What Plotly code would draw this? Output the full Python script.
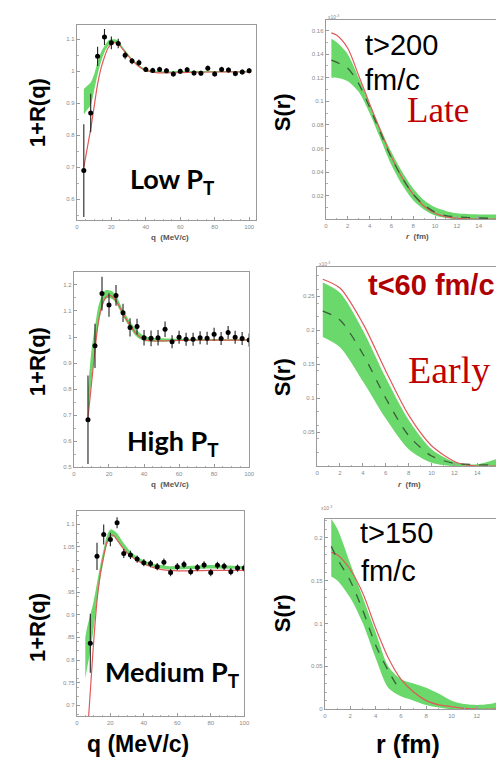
import plotly.graph_objects as go

W, H = 504, 758

# ---------------- data ----------------
q_pts = [4, 8, 12, 16, 20, 24, 28, 32, 36, 40, 44, 48, 52, 56, 60, 64, 68, 72, 76, 80, 84, 88, 92, 96, 100]

# Low PT
low_y = [0.69, 0.87, 1.047, 1.107, 1.089, 1.087, 1.05, 1.032, 1.027, 1.006, 1.003, 1.006, 1.002,
         0.992, 1.0, 1.005, 0.995, 0.994, 1.01, 0.992, 1.006, 1.004, 0.993, 0.998, 1.002]
low_err = [0.145, 0.06, 0.03, 0.025, 0.02, 0.015, 0.012, 0.01, 0.01, 0.008, 0.008, 0.008, 0.008,
           0.008, 0.008, 0.008, 0.008, 0.008, 0.008, 0.008, 0.008, 0.008, 0.008, 0.008, 0.008]
low_fit_q = [4, 6, 8, 10, 12, 14, 16, 18, 20, 22, 24, 28, 32, 36, 40, 45, 50, 60, 80, 100]
low_fit = [0.70, 0.76, 0.82, 0.89, 0.96, 1.01, 1.045, 1.072, 1.085, 1.09, 1.085, 1.06, 1.035, 1.015,
           1.003, 0.997, 0.995, 0.996, 0.998, 0.998]
low_band_q = [4, 6, 8, 10, 12, 14, 16, 18, 20, 22, 24, 28, 32, 36, 40, 50, 60, 80, 100]
low_band_lo = [0.865, 0.88, 0.895, 0.94, 0.99, 1.03, 1.06, 1.078, 1.088, 1.09, 1.085, 1.058, 1.033,
               1.013, 1.0, 0.995, 0.997, 0.997, 0.997]
low_band_hi = [0.945, 0.955, 0.965, 0.99, 1.03, 1.06, 1.08, 1.095, 1.1, 1.1, 1.095, 1.066, 1.04,
               1.02, 1.007, 1.0, 1.001, 1.001, 1.001]

# High PT
high_q = q_pts[1:]
high_y = [0.682, 0.966, 1.167, 1.123, 1.16, 1.093, 1.037, 1.04, 0.997, 0.995, 0.997, 1.03, 0.982,
          0.999, 0.991, 0.991, 0.997, 0.995, 1.011, 0.994, 1.017, 0.999, 0.994, 0.989]
high_err = [0.17, 0.085, 0.065, 0.045, 0.04, 0.035, 0.035, 0.03, 0.03, 0.03, 0.03, 0.03, 0.025,
            0.025, 0.025, 0.025, 0.025, 0.025, 0.025, 0.025, 0.025, 0.025, 0.025, 0.025]
high_fit_q = [8, 10, 12, 14, 16, 18, 20, 22, 24, 28, 32, 36, 40, 45, 50, 60, 80, 100]
high_fit = [0.69, 0.82, 0.95, 1.06, 1.12, 1.15, 1.16, 1.155, 1.14, 1.09, 1.045, 1.01, 0.99, 0.985,
            0.985, 0.987, 0.988, 0.988]
high_band_q = [8, 10, 12, 14, 16, 18, 20, 22, 24, 28, 32, 36, 40, 45, 50, 60, 80, 100]
high_band_lo = [0.70, 0.83, 0.95, 1.05, 1.11, 1.145, 1.15, 1.145, 1.13, 1.08, 1.035, 1.0, 0.985,
                0.982, 0.982, 0.985, 0.986, 0.986]
high_band_hi = [0.80, 0.95, 1.04, 1.12, 1.16, 1.18, 1.18, 1.175, 1.16, 1.105, 1.06, 1.025, 1.005,
                0.997, 0.995, 0.993, 0.992, 0.992]

# Medium PT
med_q = q_pts[1:]
med_y = [0.837, 1.029, 1.077, 1.066, 1.103, 1.035, 1.032, 1.023, 1.015, 1.013, 1.006, 1.016, 0.993,
         1.006, 1.011, 0.995, 1.004, 1.01, 0.993, 1.009, 1.007, 0.995, 1.003, 1.003]
med_err = [0.065, 0.03, 0.022, 0.015, 0.012, 0.01, 0.009, 0.008, 0.008, 0.008, 0.008, 0.008, 0.008,
           0.008, 0.008, 0.008, 0.008, 0.008, 0.008, 0.008, 0.008, 0.008, 0.008, 0.008]
med_fit_q = [7, 8, 10, 12, 14, 16, 18, 20, 22, 24, 28, 32, 36, 40, 45, 50, 55, 60, 80, 100]
med_fit = [0.676, 0.73, 0.84, 0.93, 0.99, 1.03, 1.06, 1.075, 1.075, 1.065, 1.045, 1.03, 1.02, 1.012,
           1.005, 1.0, 0.998, 0.997, 0.998, 0.998]
med_band_q = [5, 6, 8, 10, 12, 14, 16, 18, 20, 22, 24, 28, 32, 36, 40, 45, 50, 55, 60, 80, 100]
med_band_lo = [0.76, 0.78, 0.82, 0.87, 0.93, 0.98, 1.02, 1.055, 1.07, 1.072, 1.064, 1.045, 1.03,
               1.02, 1.012, 1.006, 1.002, 1.0, 1.0, 1.002, 1.001]
med_band_hi = [0.85, 0.87, 0.90, 0.93, 0.97, 1.01, 1.045, 1.075, 1.088, 1.086, 1.08, 1.058, 1.04,
               1.028, 1.02, 1.013, 1.01, 1.007, 1.007, 1.01, 1.007]

# S(r) late (t>200 fm/c)
r_late = [0.5, 1, 2, 3, 4, 5, 6, 7, 8, 9, 10, 11, 12, 14, 16.5]
late_red = [0.158, 0.156, 0.145, 0.122, 0.098, 0.075, 0.053, 0.035, 0.021, 0.011, 0.005, 0.002,
            0.0007, 0.0001, 0.0]
late_dash = [0.135, 0.133, 0.128, 0.115, 0.095, 0.073, 0.052, 0.035, 0.021, 0.012, 0.006, 0.003,
             0.002, 0.001, 0.0005]
late_hi = [0.153, 0.15, 0.14, 0.12, 0.098, 0.077, 0.057, 0.04, 0.026, 0.016, 0.01, 0.007, 0.005,
           0.004, 0.004]
late_lo = [0.12, 0.12, 0.117, 0.108, 0.09, 0.068, 0.046, 0.029, 0.016, 0.008, 0.003, 0.001, 0.0,
           0.0, 0.0]

# S(r) early (t<60 fm/c)
r_early = [0.5, 2, 4, 6, 8, 10, 12, 13, 14, 15, 16, 16.5]
early_red = [0.275, 0.262, 0.21, 0.14, 0.075, 0.03, 0.007, 0.002, 0.0, 0.0, 0.0, 0.0]
early_dash = [0.228, 0.215, 0.165, 0.10, 0.045, 0.015, 0.004, 0.003, 0.002, 0.002, 0.002, 0.002]
early_hi = [0.27, 0.255, 0.20, 0.13, 0.068, 0.025, 0.006, 0.003, 0.003, 0.007, 0.012, 0.013]
early_lo = [0.19, 0.175, 0.125, 0.07, 0.025, 0.005, 0.0, 0.0, 0.0, 0.0, 0.0, 0.0]

# S(r) medium (t>150 fm/c)
r_med = [0.5, 1, 2, 3, 4, 5, 6, 7, 8, 9, 10, 11, 12, 13, 14, 14.3]
med_red = [0.183, 0.18, 0.163, 0.135, 0.095, 0.06, 0.035, 0.02, 0.01, 0.005, 0.003, 0.001, 0.0,
           0.0, 0.0, 0.0]
r_med_dash = [0.5, 1, 2, 3, 4, 5, 5.8]
med_dash = [0.19, 0.175, 0.15, 0.115, 0.075, 0.045, 0.025]
med_hi = [0.222, 0.21, 0.17, 0.13, 0.09, 0.05, 0.035, 0.03, 0.025, 0.018, 0.01, 0.006, 0.005,
          0.006, 0.01, 0.011]
med_lo = [0.155, 0.15, 0.13, 0.10, 0.06, 0.025, 0.015, 0.01, 0.005, 0.002, 0.0, 0.0, 0.0, 0.0,
          0.0, 0.0]

# ---------------- styling ----------------
GREEN = "#6ad86a"
RED = "#e05a5a"
DASH = "#3b5e3b"

fig = go.Figure()


def px_x(a, b):
    return [a / W, b / W]


def px_y(top, bottom):
    return [1 - bottom / H, 1 - top / H]


def band(xs, lo, hi, ax):
    xa, ya = ax
    fig.add_trace(go.Scatter(x=xs, y=lo, mode="lines",
                             line=dict(width=0, color=GREEN, shape="spline", smoothing=0.8),
                             xaxis=xa, yaxis=ya, showlegend=False, hoverinfo="skip"))
    fig.add_trace(go.Scatter(x=xs, y=hi, mode="lines",
                             line=dict(width=0, color=GREEN, shape="spline", smoothing=0.8),
                             fill="tonexty", fillcolor=GREEN, xaxis=xa, yaxis=ya,
                             showlegend=False, hoverinfo="skip"))


def line(xs, ys, ax, color, dash=None, width=1.2):
    xa, ya = ax
    fig.add_trace(go.Scatter(x=xs, y=ys, mode="lines",
                             line=dict(color=color, width=width, dash=dash, shape="spline",
                                       smoothing=0.8),
                             xaxis=xa, yaxis=ya, showlegend=False))


def points(xs, ys, err, ax):
    xa, ya = ax
    fig.add_trace(go.Scatter(x=xs, y=ys, mode="markers",
                             marker=dict(color="black", size=5),
                             error_y=dict(type="data", array=err, color="#222", thickness=1.1, width=0),
                             xaxis=xa, yaxis=ya, showlegend=False))


# panel 1: low PT
A1 = ("x", "y")
band(low_band_q, low_band_lo, low_band_hi, A1)
line(low_fit_q, low_fit, A1, RED)
points(q_pts, low_y, low_err, A1)

# panel 2: late
A2 = ("x2", "y2")
band(r_late, late_lo, late_hi, A2)
line(r_late, late_red, A2, RED)
line(r_late, late_dash, A2, DASH, dash="dash", width=1.3)

# panel 3: high PT
A3 = ("x3", "y3")
band(high_band_q, high_band_lo, high_band_hi, A3)
line(high_fit_q, high_fit, A3, RED)
points(high_q, high_y, high_err, A3)

# panel 4: early
A4 = ("x4", "y4")
band(r_early, early_lo, early_hi, A4)
line(r_early, early_red, A4, RED)
line(r_early, early_dash, A4, DASH, dash="dash", width=1.3)

# panel 5: medium PT
A5 = ("x5", "y5")
band(med_band_q, med_band_lo, med_band_hi, A5)
line(med_fit_q, med_fit, A5, RED)
points(med_q, med_y, med_err, A5)

# panel 6: medium S(r)
A6 = ("x6", "y6")
band(r_med, med_lo, med_hi, A6)
line(r_med, med_red, A6, RED)
line(r_med_dash, med_dash, A6, DASH, dash="dash", width=1.3)


def axis(domain, rng, anchor, tickvals, ticktext=None, mirror=True):
    d = dict(domain=domain, range=rng, anchor=anchor, showline=True, linecolor="#9a9a9a",
             linewidth=1.3, mirror=mirror, ticks="inside", ticklen=3, tickcolor="#9a9a9a",
             tickfont=dict(size=6, color="#8a8a8a", family="Liberation Sans"),
             showgrid=False, zeroline=False, tickvals=tickvals,
             minor=dict(ticks="inside", ticklen=1.5, tickcolor="#b0b0b0", nticks=5))
    if ticktext is not None:
        d["ticktext"] = ticktext
    return d


qticks = [0, 20, 40, 60, 80, 100]
layout = dict(
    width=W, height=H, margin=dict(l=0, r=0, t=0, b=0),
    paper_bgcolor="white", plot_bgcolor="white",
    xaxis=axis(px_x(68, 250), [0, 104], "y", qticks),
    yaxis=axis(px_y(17, 213), [0.535, 1.145], "x", [0.6, 0.7, 0.8, 0.9, 1.0, 1.1],
               ["0.6", "0.7", "0.8", "0.9", "1", "1.1"]),
    xaxis2=axis(px_x(321, 504), [0, 16.5], "y2", [0, 2, 4, 6, 8, 10, 12, 14, 16]),
    yaxis2=axis(px_y(12, 212), [0, 0.169], "x2",
                [0.02, 0.04, 0.06, 0.08, 0.1, 0.12, 0.14, 0.16],
                ["0.02", "0.04", "0.06", "0.08", "0.1", "0.12", "0.14", "0.16"], mirror=False),
    xaxis3=axis(px_x(65, 243), [0, 100], "y3", qticks),
    yaxis3=axis(px_y(265, 461), [0.5, 1.25], "x3", [0.5, 0.6, 0.7, 0.8, 0.9, 1.0, 1.1, 1.2],
                ["0.5", "0.6", "0.7", "0.8", "0.9", "1", "1.1", "1.2"]),
    xaxis4=axis(px_x(312, 504), [0, 16.5], "y4", [0, 2, 4, 6, 8, 10, 12, 14, 16]),
    yaxis4=axis(px_y(260, 460), [0, 0.293], "x4", [0.05, 0.1, 0.15, 0.2, 0.25],
                ["0.05", "0.1", "0.15", "0.2", "0.25"], mirror=False),
    xaxis5=axis(px_x(68, 238), [0, 100], "y5", qticks),
    yaxis5=axis(px_y(505, 711), [0.676, 1.129], "x5",
                [0.7, 0.75, 0.8, 0.85, 0.9, 0.95, 1.0, 1.05, 1.1],
                ["0.7", "0.75", "0.8", ".85", "0.9", ".95", "1", "1.05", "1.1"]),
    xaxis6=axis(px_x(320, 504), [0, 14.3], "y6", [0, 2, 4, 6, 8, 10, 12, 14]),
    yaxis6=axis(px_y(513, 704), [0, 0.222], "x6", [0, 0.05, 0.1, 0.15, 0.2],
                ["0", "0.05", "0.1", "0.15", "0.2"], mirror=False),
)
fig.update_layout(**layout)

ann = []


def text(s, x, y, size, color="black", family="Liberation Sans", angle=0, xanchor="center"):
    ann.append(dict(text=s, x=x / W, y=1 - y / H, xref="paper", yref="paper", showarrow=False,
                    xanchor=xanchor, yanchor="middle", textangle=angle,
                    font=dict(size=size, color=color, family=family)))


# y-axis titles
for yc in (105, 355, 622):
    text("<b>1+R(q)</b>", 28, yc, 22, angle=-90)
for yc in (105, 371, 608):
    text("<b>S(r)</b>", 277, yc, 22, angle=-90)

# small in-plot axis titles
text("<b>q  (MeV/c)</b>", 163, 230, 8, color="#555")
text("<b><i>r</i>  (fm)</b>", 414, 229, 8, color="#555")
text("<b>q  (MeV/c)</b>", 163, 478, 8, color="#555")
text("<b><i>r</i>  (fm)</b>", 406, 478, 8, color="#555")

# x10^-3 multipliers
text("x10<sup>-3</sup>", 329, 9, 5, color="#888")
text("x10<sup>-3</sup>", 320, 257, 5, color="#888")
text("x10<sup>-3</sup>", 322, 502, 5, color="#888")

# panel labels
text("<b>Low P<sub>T</sub></b>", 165, 173, 27, family="Lato")
text("<b>High P<sub>T</sub></b>", 166, 436, 27, family="Lato")
text("<b>Medium P<sub>T</sub></b>", 165, 668, 27, family="Lato")

text("t>200", 359, 37, 29, xanchor="left")
text("fm/c", 359, 72, 29, xanchor="left")
text("Late", 435, 103, 35, color="#c00000", family="Liberation Serif")

text("<b>t<60 fm/c</b>", 428, 278, 29, color="#b00000")
text("Early", 446, 363, 38, color="#c00000", family="Liberation Serif")

text("t>150", 354, 527, 29, xanchor="left")
text("fm/c", 355, 565, 29, xanchor="left")

# bottom titles
text("<b>q (MeV/c)</b>", 130, 739, 23)
text("<b>r (fm)</b>", 404, 739, 25)

fig.update_layout(annotations=ann)
fig.write_html("out.html")
